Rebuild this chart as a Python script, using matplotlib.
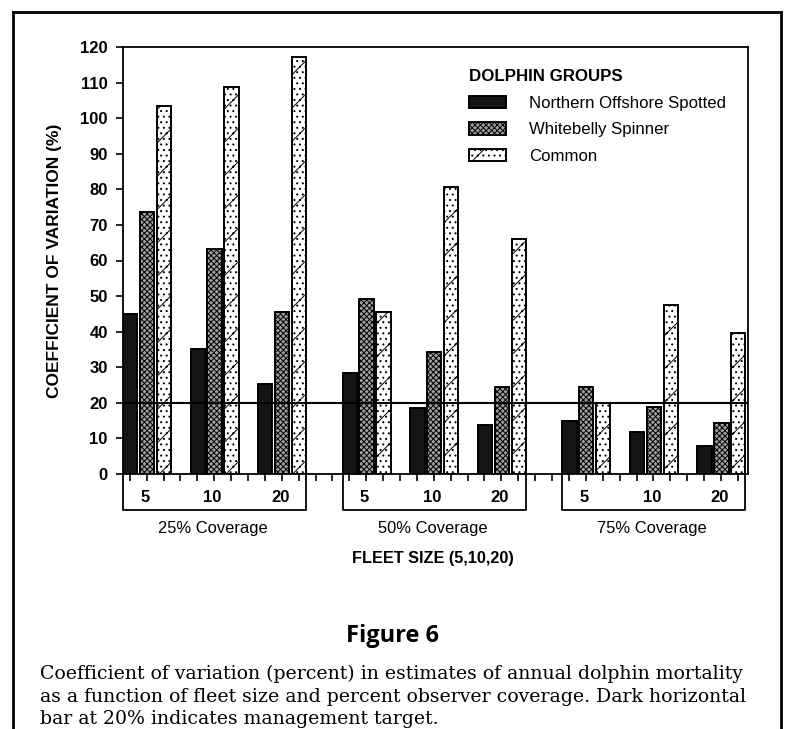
import matplotlib.pyplot as plt
from matplotlib.lines import Line2D
import matplotlib.transforms as mtransforms

# data (CV in %)
coverages = ["25% Coverage", "50% Coverage", "75% Coverage"]
fleet_sizes = ["5", "10", "20"]
groups = ["Northern Offshore Spotted", "Whitebelly Spinner", "Common"]

northern = [45, 35, 25.3, 28.4, 18.6, 13.8, 14.9, 11.8, 7.9]
whitebelly = [73.7, 63.3, 45.6, 49.2, 34.3, 24.5, 24.5, 18.8, 14.3]
common = [103.5, 108.8, 117.2, 45.6, 80.7, 66, 20, 47.5, 39.6]
target = 20

plt.rcParams['font.family'] = ['Liberation Sans', 'DejaVu Sans']
plt.rcParams['hatch.linewidth'] = 0.7

fig = plt.figure(figsize=(7.86, 7.29), dpi=100)
ax = fig.add_axes([123/786, 1-474/729, 625/786, 427/729])

# slot layout: 3 bars + 1 gap per fleet size, 2 extra empty slots between coverages
starts = []
for c in range(3):
    for f in range(3):
        starts.append(c * 13 + f * 4)

w = 0.85
styles = [dict(color='#151515', hatch=None),
          dict(color='#a0a0a0', hatch='xxxxxx'),
          dict(color='white', hatch='/...')]
series = [northern, whitebelly, common]
for j, (vals, st) in enumerate(zip(series, styles)):
    xs = [s + j for s in starts]
    ax.bar(xs, vals, width=w, align='edge', color=st['color'], hatch=st['hatch'],
           edgecolor='black', linewidth=1.4, label=groups[j], zorder=2)

ax.axhline(target, color='black', lw=1.5, zorder=3)

ax.set_xlim(0, 37)
ax.set_ylim(0, 120)
ax.set_yticks(range(0, 121, 10))
ax.set_xticks([k + 0.4 for k in range(37)])
ax.set_xticklabels([])
ax.tick_params(axis='y', direction='out', length=5, width=1.2, pad=6, labelsize=12)
ax.tick_params(axis='x', direction='out', length=5, width=1.2)
for lab in ax.get_yticklabels():
    lab.set_fontweight('bold')
for sp in ax.spines.values():
    sp.set_linewidth(1.3)

ax.set_ylabel("COEFFICIENT OF VARIATION (%)", fontsize=12.5, fontweight='bold')
ax.yaxis.set_label_coords(-0.097, 0.5)

# boxes with fleet sizes under the axis
trans = mtransforms.blended_transform_factory(ax.transData, ax.transAxes)
box_bottom = -36/427
for c in range(3):
    x0 = starts[c * 3]
    x1 = starts[c * 3 + 2] + 2 + w
    ax.plot([x0, x0, x1, x1], [0, box_bottom, box_bottom, 0], color='black',
            lw=1.3, transform=trans, clip_on=False)
    for f in range(3):
        ax.text(starts[c * 3 + f] + 1.3, -23/427, fleet_sizes[f], transform=trans,
                ha='center', va='center', fontsize=12, fontweight='bold')
    ax.text((x0 + x1) / 2 - 0.1, -55/427, coverages[c], transform=trans,
            ha='center', va='center', fontsize=11.9)

fig.text(433/786, 1-559/729, "FLEET SIZE (5,10,20)", ha='center', va='center',
         fontsize=11.7, fontweight='bold')

leg = ax.legend(title="DOLPHIN GROUPS", loc='upper left', bbox_to_anchor=(0.529, 0.983),
                frameon=False, fontsize=12.1, handlelength=2.2, handleheight=0.75,
                handletextpad=1.37, labelspacing=0.68, alignment='left')
leg.get_title().set_fontweight('bold')
leg.get_title().set_fontsize(12.2)

# caption
fig.text(0.5, 1-636/729, "Figure 6", ha='center', va='center', fontsize=17,
         fontweight='bold', family=['Open Sans', 'Lato', 'DejaVu Sans'])
caption = ["Coefficient of variation (percent) in estimates of annual dolphin mortality",
           "as a function of fleet size and percent observer coverage. Dark horizontal",
           "bar at 20% indicates management target."]
for i, line in enumerate(caption):
    fig.text(40/786, 1-(679 + 22.5*i)/729, line, ha='left', va='baseline',
             fontsize=13.6, family=['DejaVu Serif'])

# page frame
fig.add_artist(Line2D([13/786, 781/786], [1-12/729, 1-12/729], color='black', lw=2))
fig.add_artist(Line2D([13/786, 13/786], [0, 1-12/729], color='black', lw=2))
fig.add_artist(Line2D([781/786, 781/786], [0, 1-12/729], color='black', lw=2))

fig.savefig("out.png", dpi=100)
